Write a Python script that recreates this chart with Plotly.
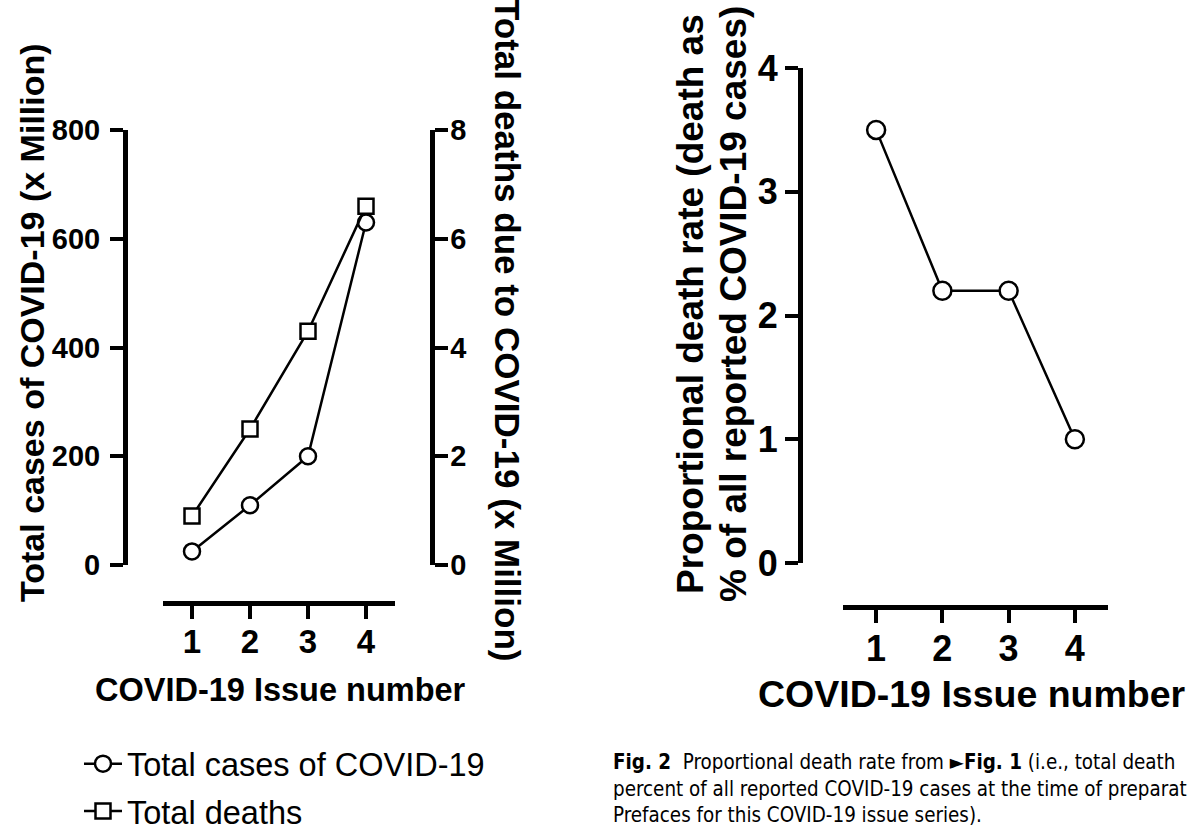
import plotly.graph_objects as go

# ---- data ----
issues = [1, 2, 3, 4]
total_cases_million = [25, 110, 200, 630]
total_deaths_million = [0.9, 2.5, 4.3, 6.6]
death_rate_percent = [3.5, 2.2, 2.2, 1.0]

left_y_ticks = [0, 200, 400, 600, 800]
left_y2_ticks = [0, 2, 4, 6, 8]
right_y_ticks = [0, 1, 2, 3, 4]

W, H = 1192, 829
def px(x):
    return x / W
def py(y):
    return 1 - y / H

FONT = "Liberation Sans, Arial, sans-serif"
BLACK = "#000000"

fig = go.Figure()

fig.add_trace(go.Scatter(
    x=issues, y=total_cases_million, name="Total cases of COVID-19",
    mode="lines+markers", xaxis="x", yaxis="y",
    line=dict(color=BLACK, width=2.5),
    marker=dict(symbol="circle", size=16, color="white", line=dict(color=BLACK, width=2.5)),
    cliponaxis=False, legendgroup="a",
))
fig.add_trace(go.Scatter(
    x=issues, y=total_deaths_million, name="Total deaths",
    mode="lines+markers", xaxis="x", yaxis="y2",
    line=dict(color=BLACK, width=2.5),
    marker=dict(symbol="square", size=15, color="white", line=dict(color=BLACK, width=2.5)),
    cliponaxis=False, legendgroup="b",
))
fig.add_trace(go.Scatter(
    x=issues, y=death_rate_percent, name="Proportional death rate",
    mode="lines+markers", xaxis="x3", yaxis="y3",
    line=dict(color=BLACK, width=2.5),
    marker=dict(symbol="circle", size=18, color="white", line=dict(color=BLACK, width=2.5)),
    cliponaxis=False, showlegend=False,
))

axis_common = dict(showgrid=False, zeroline=False, showline=True, linecolor=BLACK,
                   linewidth=4.5, ticks="outside", ticklen=13, tickwidth=4,
                   tickcolor=BLACK, fixedrange=True, automargin=False)

fig.update_layout(
    width=W, height=H,
    margin=dict(l=0, r=0, t=0, b=0, autoexpand=False),
    paper_bgcolor="white", plot_bgcolor="white",
    font=dict(family=FONT, color=BLACK),
    xaxis=dict(**axis_common, domain=[px(163), px(395)], range=[0.5, 4.5],
               anchor="free", position=py(603), tickvals=issues, ticklabelstandoff=-5,
               tickfont=dict(size=33, weight="bold")),
    yaxis=dict(**axis_common, domain=[py(565), py(130)], range=[0, 800],
               anchor="free", position=px(125), tickvals=left_y_ticks, ticklabelstandoff=4,
               tickfont=dict(size=29, weight="bold")),
    yaxis2=dict(**axis_common, overlaying="y", side="right", range=[0, 8],
                anchor="free", position=px(432), tickvals=left_y2_ticks, ticklabelstandoff=-3,
                tickfont=dict(size=29, weight="bold")),
    xaxis3=dict(**axis_common, domain=[px(843), px(1108)], range=[0.5, 4.5],
                anchor="free", position=py(607), tickvals=issues, ticklabelstandoff=-5,
                tickfont=dict(size=36, weight="bold")),
    yaxis3=dict(**axis_common, domain=[py(563), py(68)], range=[0, 4],
                anchor="free", position=px(800), tickvals=right_y_ticks,
                tickfont=dict(size=36, weight="bold")),
    showlegend=True,
    legend=dict(xref="container", yref="container", x=px(79), y=py(736),
                xanchor="left", yanchor="top", itemwidth=38,
                font=dict(size=32.5, family=FONT, color=BLACK),
                bgcolor="rgba(0,0,0,0)", tracegroupgap=2,
                itemclick=False, itemdoubleclick=False),
)

def note(text, x, y, size, angle=0, **kw):
    d = dict(text=text, x=px(x), y=py(y), xref="paper", yref="paper",
             xanchor="center", yanchor="middle", textangle=angle, showarrow=False,
             font=dict(size=size, family=FONT, color=BLACK))
    d.update(kw)
    return d

ann = [
    note("<b>Total cases of COVID-19 (x Million)</b>", 32, 323, 34, -90),
    note("<b>Total deaths due to COVID-19 (x Million)</b>", 508, 330, 35, 90),
    note("<b>COVID-19 Issue number</b>", 280, 690, 32.5),
    note("<b>Proportional death rate (death as</b>", 690, 304, 37, -90),
    note("<b>% of all reported COVID-19 cases)</b>", 733, 304, 37, -90),
    note("<b>COVID-19 Issue number</b>", 972, 694, 37.5),
]
ann.append(dict(text=("<b>Fig. 2</b>  Proportional death rate from \u25ba<b>Fig. 1</b> (i.e., total death<br>"
                      "percent of all reported COVID-19 cases at the time of preparat<br>"
                      "Prefaces for this COVID-19 issue series)."),
                x=px(611), y=py(748), xref="paper", yref="paper", xanchor="left", yanchor="top",
                align="left", showarrow=False,
                font=dict(size=20.4, family="Liberation Sans Narrow, DejaVu Sans Condensed, Roboto Condensed, Roboto, sans-serif",
                          color=BLACK)))
fig.update_layout(annotations=ann)

fig.write_html("out.html", config={"displayModeBar": False, "staticPlot": True},
               post_script="document.body.style.margin='0';document.body.style.overflow='hidden';")
